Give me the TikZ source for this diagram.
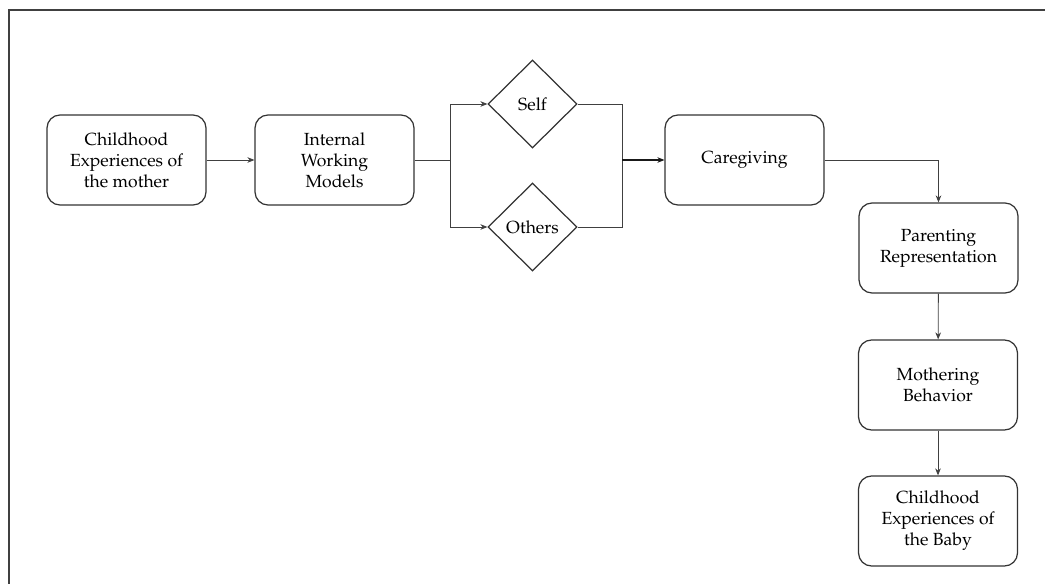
\documentclass[tikz,border=0pt]{standalone}
\usepackage[T1]{fontenc}
\usepackage{mathpazo}
\usetikzlibrary{shapes.geometric,arrows.meta}
\tikzset{
  box/.style={draw=black!80, line width=0.7pt, rounded corners=2.6mm, minimum width=3.18cm, minimum height=1.8cm, align=center, font=\normalsize, inner sep=2pt},
  dia/.style={draw=black!80, line width=0.7pt, diamond, minimum width=1.78cm, minimum height=1.76cm, inner sep=0pt, font=\normalsize},
  conn/.style={draw=black!75, line width=0.5pt},
  arr/.style={conn, -{Stealth[length=4pt,width=3.2pt]}}
}
\begin{document}
\begin{tikzpicture}[x=0.02cm,y=-0.02cm]
\useasboundingbox (0,0) rectangle (1045,584);
\draw[line width=0.9pt, draw=black!75] (9,600) -- (9,10) -- (1060,10);
\node[box] (cm) at (126.5,160) {Childhood\\Experiences of\\the mother};
\node[box] (iwm) at (334.5,160) {Internal\\Working\\Models};
\node[dia] (self) at (532.5,104) {Self};
\node[dia] (others) at (532.5,227) {Others};
\node[box] (care) at (744.5,160) {Caregiving};
\node[box] (parent) at (938.5,248) {Parenting\\Representation};
\node[box] (mother) at (938,385) {Mothering\\Behavior};
\node[box] (baby) at (938,521) {Childhood\\Experiences of\\the Baby};
\coordinate (split) at (450,160);
\coordinate (merge) at (622,160);
\draw[arr] (cm) -- (iwm);
\draw[conn] (iwm.east) -- (split);
\draw[arr] (split) |- (self.west);
\draw[arr] (split) |- (others.west);
\draw[conn] (self.east) -| (merge);
\draw[conn] (others.east) -| (merge);
\draw[arr, draw=black!90, line width=0.7pt] (merge) -- (care.west);
\draw[arr] (care.east) -| (parent.north);
\draw[arr] (parent) -- (mother);
\draw[arr] (mother) -- (baby);
\end{tikzpicture}
\end{document}
